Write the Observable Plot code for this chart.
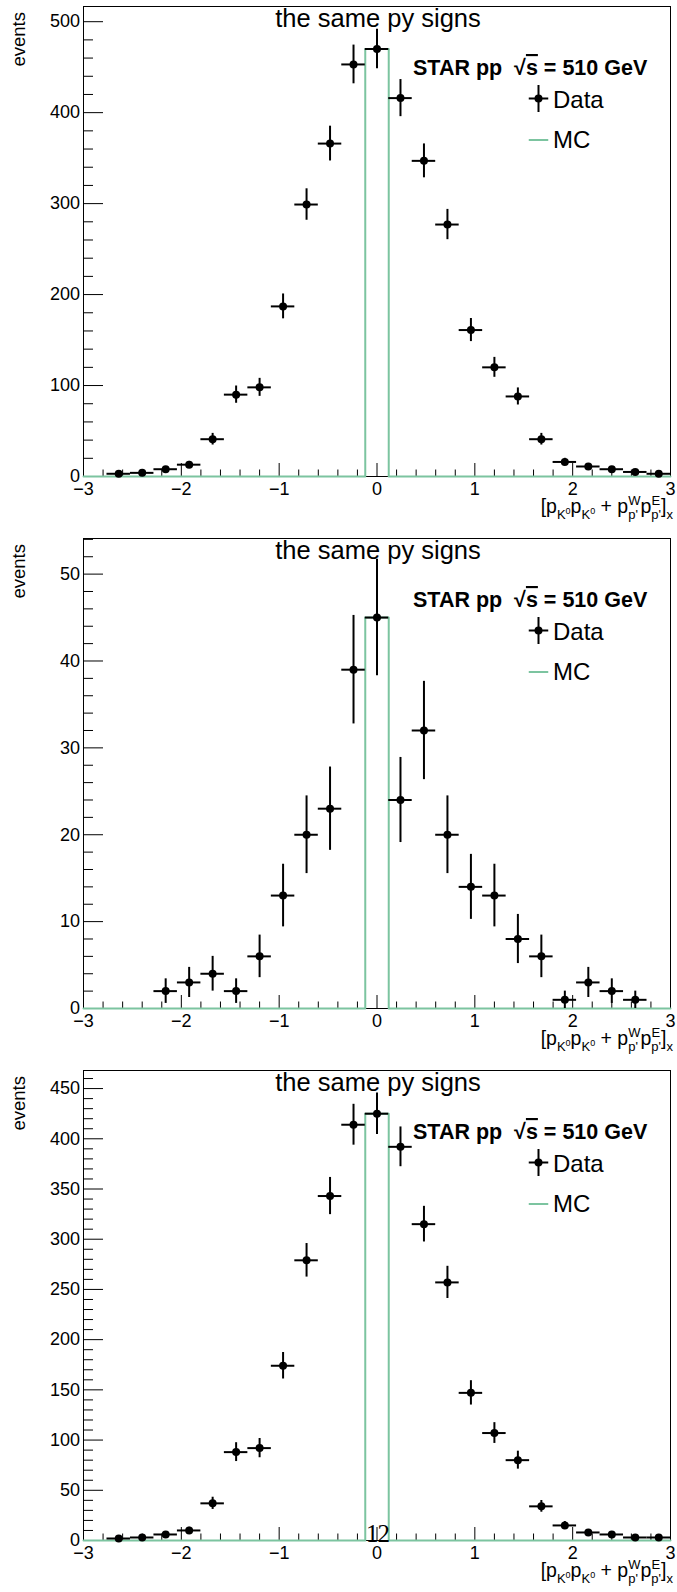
<!DOCTYPE html>
<html><head><meta charset="utf-8">
<script src="https://cdn.jsdelivr.net/npm/d3@7"></script>
<script src="https://cdn.jsdelivr.net/npm/@observablehq/plot@0.6"></script>
<style>
html,body{margin:0;padding:0;background:#fff;}
#chart svg{display:block;}
</style></head><body><div id="chart"></div>
<script>
// ---- data ----
const binCenters = [-2.88,-2.64,-2.40,-2.16,-1.92,-1.68,-1.44,-1.20,-0.96,-0.72,-0.48,-0.24,0,0.24,0.48,0.72,0.96,1.20,1.44,1.68,1.92,2.16,2.40,2.64,2.88];
const binHalfWidth = 0.12;

const data1 = [0,3,4,8,13,41,90,98,187,299,366,453,470,416,347,277,161,120,88,41,16,11,8,5,3];
const mc1   = [0,0,0,0,0,0,0,0,0,0,0,0,470,0,0,0,0,0,0,0,0,0,0,0,0];
const data2 = [0,0,0,2,3,4,2,6,13,20,23,39,45,24,32,20,14,13,8,6,1,3,2,1,0];
const mc2   = [0,0,0,0,0,0,0,0,0,0,0,0,45,0,0,0,0,0,0,0,0,0,0,0,0];
const data3 = [0,2,3,6,10,37,88,92,174,279,343,414,425,392,315,257,147,107,80,34,15,8,6,3,3];
const mc3   = [0,0,0,0,0,0,0,0,0,0,0,0,425,0,0,0,0,0,0,0,0,0,0,0,0];

const xMajor = [-3,-2,-1,0,1,2,3];
const yMajor1 = [0,100,200,300,400,500];
const yMajor2 = [0,10,20,30,40,50];
const yMajor3 = [0,50,100,150,200,250,300,350,400,450];

const titleText = "the same py signs";
const yTitle = "events";
const MC_COLOR = "#7cc4a0";
const FONT = "'Liberation Sans', Arial, Helvetica, sans-serif";

const W = 677, ML = 83, MR = 7, MT = 6, FH = 470, FW = W - ML - MR;

function fmt(d){ return d < 0 ? "\u2212" + (-d) : String(d); }

function panel({data, mc, yMax, yMajor, yMinorStep, height, marginBottom, pageNum}) {
  const pts = binCenters.map((c,i)=>({c, v:data[i], e:Math.sqrt(data[i])})).filter(d=>d.v>0);
  const steps = binCenters.flatMap((c,i)=>[{x:c-binHalfWidth,y:mc[i]},{x:c+binHalfWidth,y:mc[i]}]);
  const yMinor = d3.range(0, Math.floor(yMax/yMinorStep)+1).map(k=>k*yMinorStep).filter(t=>!yMajor.includes(t));
  const xMinor = d3.range(-15, 16).map(k=>Math.round(k*2)/10).filter(t=>!Number.isInteger(t));

  const plot = Plot.plot({
    width: W, height, marginLeft: ML, marginRight: MR, marginTop: MT, marginBottom,
    x: {domain: [-3, 3]},
    y: {domain: [0, yMax]},
    style: {fontFamily: FONT, background: "white", color: "black", overflow: "visible"},
    marks: [
      Plot.frame({stroke: "black", strokeWidth: 1}),
      Plot.ruleX(xMajor, {x: d=>d, insetTop: FH - 13, stroke: "black", strokeWidth: 1}),
      Plot.ruleX(xMinor, {x: d=>d, insetTop: FH - 6.5, stroke: "black", strokeWidth: 1}),
      Plot.ruleY(yMajor, {y: d=>d, insetRight: FW - 20, stroke: "black", strokeWidth: 1}),
      Plot.ruleY(yMinor, {y: d=>d, insetRight: FW - 10, stroke: "black", strokeWidth: 1}),
      Plot.axisX({ticks: xMajor, tickSize: 0, tickPadding: 6, fontSize: 18, label: null, tickFormat: fmt}),
      Plot.axisY({ticks: yMajor, tickSize: 0, tickPadding: 3.5, fontSize: 18, label: null, tickFormat: fmt}),
      Plot.line(steps, {x: "x", y: "y", stroke: MC_COLOR, strokeWidth: 2}),
      Plot.ruleY(pts, {y: "v", x1: d=>d.c-binHalfWidth, x2: d=>d.c+binHalfWidth, stroke: "black", strokeWidth: 2}),
      Plot.ruleX(pts, {x: "c", y1: d=>d.v-d.e, y2: d=>d.v+d.e, stroke: "black", strokeWidth: 2}),
      Plot.dot(pts, {x: "c", y: "v", r: 4, fill: "black", stroke: "none"})
    ]
  });

  const svg = d3.select(plot);
  const g = svg.append("g").attr("font-family", FONT).attr("fill", "black").attr("text-anchor", "start");
  // title
  g.append("text").attr("x", ML + FW/2 + 1.5).attr("y", MT + 21).attr("text-anchor", "middle")
    .attr("font-size", 25.5).text(titleText);
  // y title
  g.append("text").attr("transform", `translate(25,${MT + 6}) rotate(-90)`).attr("text-anchor", "end")
    .attr("font-size", 18.5).text(yTitle);
  // STAR label
  const star = g.append("text").attr("x", ML + 330).attr("y", MT + 69).attr("font-size", 21.5)
    .attr("text-anchor", "start").attr("font-weight", "bold").style("white-space", "pre");
  star.append("tspan").text("STAR pp  \u221A");
  star.append("tspan").attr("text-decoration", "overline").text("s");
  star.append("tspan").text(" = 510 GeV");
  // legend: Data
  const lx = ML + 455.5, ly = MT + 92.5;
  g.append("line").attr("x1", lx - 9.75).attr("x2", lx + 9.75).attr("y1", ly).attr("y2", ly).attr("stroke", "black").attr("stroke-width", 2);
  g.append("line").attr("x1", lx).attr("x2", lx).attr("y1", ly - 13.5).attr("y2", ly + 13.5).attr("stroke", "black").attr("stroke-width", 2);
  g.append("circle").attr("cx", lx).attr("cy", ly).attr("r", 4).attr("fill", "black");
  g.append("text").attr("x", ML + 470).attr("y", MT + 102.3).attr("text-anchor", "start").attr("font-size", 24).text("Data");
  // legend: MC
  g.append("line").attr("x1", lx - 9.75).attr("x2", lx + 9.75).attr("y1", MT + 134).attr("y2", MT + 134).attr("stroke", MC_COLOR).attr("stroke-width", 2);
  g.append("text").attr("x", ML + 470).attr("y", MT + 142.3).attr("text-anchor", "start").attr("font-size", 24).text("MC");
  // x title
  const F = 19.5, S = 13, SS = 9;
  const xt = g.append("text").attr("x", W - 4).attr("y", MT + FH + 37).attr("text-anchor", "end").attr("font-size", F).style("white-space", "pre");
  const ts = (txt, size, dy, dx) => { const t = xt.append("tspan").attr("font-size", size).text(txt); if (dy) t.attr("dy", dy); if (dx) t.attr("dx", dx); return t; };
  ts("[p", F);
  ts("K", S, 6); ts("0", SS, -5); ts("p", F, -1);
  ts("K", S, 6); ts("0", SS, -5); ts(" + p", F, -1);
  ts("W", S, -8); ts("p'", S, 14, -12.3); ts("p", F, -6, 2.6);
  ts("E", S, -8); ts("p'", S, 14, -8.7); ts("]", F, -6);
  ts("x", S, 6);
  if (pageNum) {
    g.append("text").attr("x", ML + FW/2 + 1).attr("y", MT + FH + 1.5).attr("text-anchor", "middle")
      .attr("font-family", "'Liberation Serif', 'Times New Roman', serif").attr("font-size", 25)
      .attr("letter-spacing", -1).text(pageNum);
  }
  return plot;
}

const chart = document.getElementById("chart");
chart.append(panel({data: data1, mc: mc1, yMax: 516.7, yMajor: yMajor1, yMinorStep: 20, height: 532, marginBottom: 56}));
chart.append(panel({data: data2, mc: mc2, yMax: 54.1, yMajor: yMajor2, yMinorStep: 2, height: 532, marginBottom: 56}));
chart.append(panel({data: data3, mc: mc3, yMax: 468, yMajor: yMajor3, yMinorStep: 10, height: 528, marginBottom: 52, pageNum: "12"}));
</script></body></html>
